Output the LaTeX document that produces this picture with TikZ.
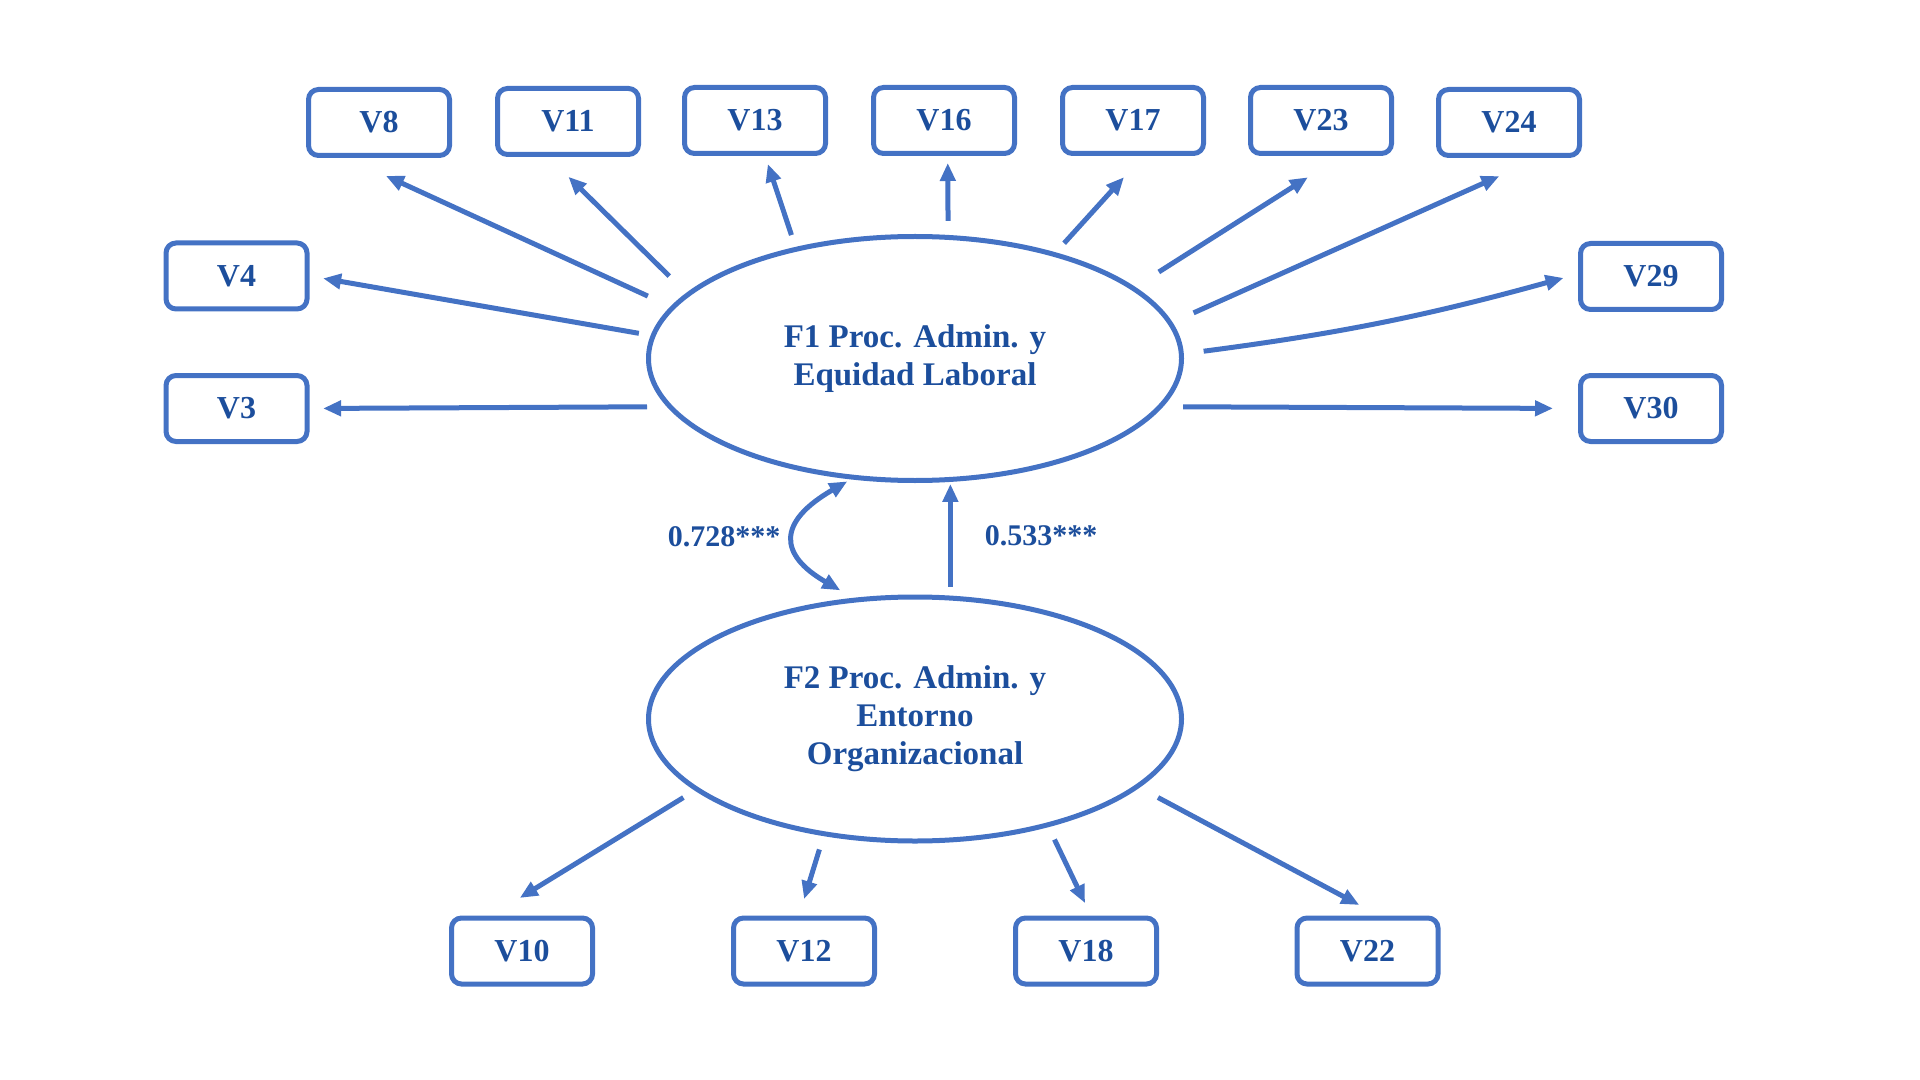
\documentclass[tikz,border=0pt]{standalone}
\usepackage{fontspec}
\setmainfont{Liberation Serif}
\usetikzlibrary{arrows.meta, shapes.geometric, positioning}
\definecolor{lineblue}{RGB}{68,114,196}
\definecolor{textblue}{RGB}{28,78,156}

\begin{document}
\begin{tikzpicture}[
    x=0.5pt, y=0.5pt,
      var/.style = {rectangle, rounded corners=5pt, draw=lineblue, line width=2.5pt,
                    minimum width=70.5pt, minimum height=33pt, inner sep=0pt,
                    text=textblue, font=\fontsize{16}{19}\selectfont\bfseries},
   factor/.style = {ellipse, draw=lineblue, line width=2.5pt,
                    minimum width=266.5pt, minimum height=122pt, inner sep=0pt,
                    align=center, text=textblue, font=\fontsize{16.5}{19}\selectfont\bfseries},
      arr/.style = {draw=lineblue, line width=2.5pt, -{Triangle[length=9pt,width=7.5pt]}},
     coef/.style = {text=textblue, font=\fontsize{15}{18}\selectfont\bfseries}
                    ]
\useasboundingbox (0,0) rectangle (1920,-1080);
% factors
\node (f1)[factor] at (915,-358.5) {F1 Proc. Admin. y\\Equidad Laboral};
\node (f2)[factor] at (915,-719) {F2 Proc. Admin. y\\Entorno\\Organizacional};
% observed variables
\foreach \n/\x/\y in {8/379/122.5, 11/568/121.5, 13/755/120.5, 16/944/120.5,
                      17/1133/120.5, 23/1321/120.5, 24/1509/122.5,
                      4/236.5/276, 3/236.5/408.5, 29/1651/276.5, 30/1651/408.5,
                      10/522/951, 12/804/951, 18/1086/951, 22/1367.5/951}
    \node (v\n)[var] at (\x,-\y) {V\n};
% loadings F1
\draw[arr, shorten <=12.5pt, shorten >=21.4pt] (f1.168) -- (v8.228);
\draw[arr, shorten <=12pt, shorten >=14.1pt] (f1.164) -- (v11.241);
\draw[arr, shorten <=6.3pt, shorten >=4.2pt] (f1.137) -- (v13.286);
\draw[arr, shorten <=7pt, shorten >=3.5pt] (f1.75) -- (v16.276);
\draw[arr, shorten <=6.2pt, shorten >=14.3pt] (f1.37) -- (v17.286);
\draw[arr, shorten <=14pt, shorten >=19.9pt] (f1.18) -- (v23.300);
\draw[arr, shorten <=11.6pt, shorten >=22.2pt] (f1.8) -- (v24.311);
\draw[arr, shorten <=10pt, shorten >=7.5pt] (f1.1) to[bend right=4] (v29.178);
\draw[arr, shorten <=10pt, shorten >=12.5pt] (f1.-11) -- (v30.west);
\draw[arr, shorten <=6pt, shorten >=6.9pt] (f1.175) -- (v4.east);
\draw[arr, shorten <=10pt, shorten >=6.8pt] (f1.191) -- (v3.east);
% loadings F2
\draw[arr, shorten <=6.7pt, shorten >=16.8pt] (f2.198) -- (v10.131);
\draw[arr, shorten <=7pt, shorten >=8.6pt] (f2.232) -- (v12.98);
\draw[arr, shorten <=6.9pt, shorten >=6.9pt] (f2.321) -- (v18.82);
\draw[arr, shorten <=10.5pt, shorten >=11.2pt] (f2.343) -- (v22.72);
% structural part
\draw[arr, shorten <=4.5pt, shorten >=1pt] (f2.74) -- (f1.286);
\draw[arr, {Triangle[length=9pt,width=7.5pt]}-{Triangle[length=9pt,width=7.5pt]},
      shorten <=2pt, shorten >=7.5pt] (f1.242) to[out=210, in=150, looseness=1.85] (f2.117);
\node (r12)[coef] at (724,-537) {0.728***};
\node (b12)[coef] at (1041,-536) {0.533***};
\end{tikzpicture}
\end{document}
